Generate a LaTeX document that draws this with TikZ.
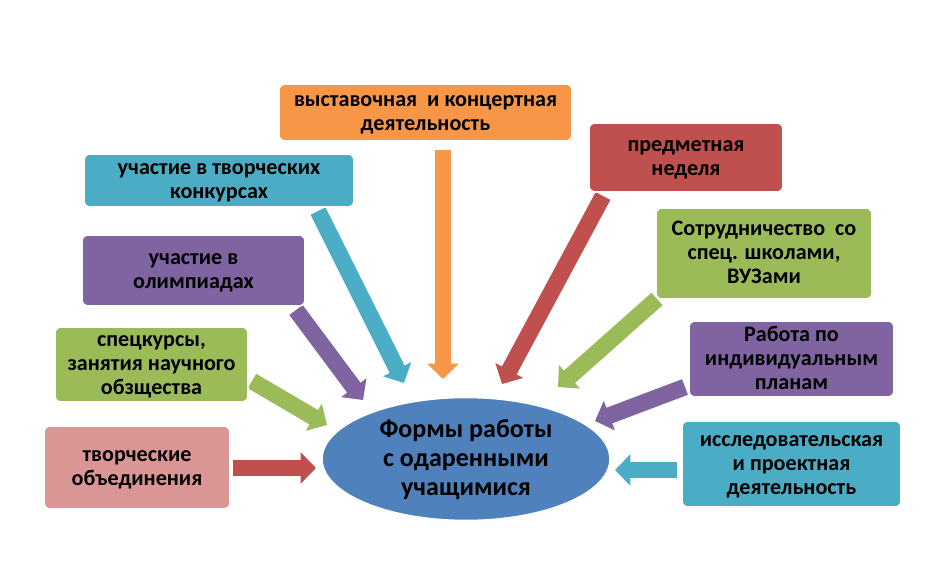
\documentclass[tikz,border=0pt]{standalone}
\usepackage{fontspec}
\setmainfont{Carlito}
\usetikzlibrary{arrows.meta,shapes.geometric,backgrounds}
\definecolor{corange}{HTML}{F79646}
\definecolor{cblue}{HTML}{4BACC6}
\definecolor{cpurple}{HTML}{8064A2}
\definecolor{cgreen}{HTML}{9BBB59}
\definecolor{cred}{HTML}{C0504D}
\definecolor{cpink}{HTML}{D99694}
\definecolor{cmain}{HTML}{4F81BD}
\newcommand\tx[1]{\raisebox{-1pt}[\height][\depth]{\begin{tabular}{@{}c@{}}#1\end{tabular}}}
\begin{document}
\begin{tikzpicture}[x=0.75pt,y=-0.75pt,
  box/.style={rectangle, rounded corners=4.5pt, draw=white, line width=1.2pt, text=black,
    font=\bfseries\fontsize{16.6}{18}\selectfont, inner sep=0pt},
  sz/.style 2 args={minimum width=#1*0.75pt, minimum height=#2*0.75pt},
  hub/.style={ellipse, fill=cmain, draw=white, line width=1.2pt, text=black, inner sep=0pt,
    font=\bfseries\fontsize{19.5}{21.75}\selectfont},
  arr/.style={line width=12.5pt, -{Triangle[length=11.5pt,width=23pt]}}]
\useasboundingbox (0,0) rectangle (947,588);
% boxes
\node[box, fill=corange, sz={293}{57}] (orange) at (425.5,112.5) {\tx{выставочная\ \ и концертная\\деятельность}};
\node[box, fill=cblue, sz={270}{53}] (blueTL) at (219,180.5) {\tx{участие в творческих\\конкурсах}};
\node[box, fill=cpurple, sz={223}{71}] (purpleL) at (193.5,270.5) {\tx{участие в\\олимпиадах}};
\node[box, fill=cgreen, sz={193}{75}] (greenL) at (151.5,364.5) {\tx{спецкурсы,\\занятия научного\\обзщества}};
\node[box, fill=cpink, sz={186}{83}] (pinkL) at (137,467.5) {\tx{творческие\\объединения}};
\node[box, fill=cred, sz={194}{69}] (redTR) at (686,157.5) {\tx{предметная\\неделя}};
\node[box, fill=cgreen, sz={216}{91}] (greenR) at (764,253.5) {\tx{Сотрудничество\ \ со\\спец. школами,\\ВУЗами}};
\node[box, fill=cpurple, sz={205}{76}] (purpleR) at (791.5,359) {\tx{Работа по\\индивидуальным\\планам}};
\node[box, fill=cblue, sz={219}{86}] (blueR) at (791.5,464) {\tx{исследовательская\\и проектная\\деятельность}};
\node[hub, minimum width=216pt, minimum height=85.5pt] (hub) at (466,459) {\tx{Формы работы\\с одаренными\\учащимися}};
% arrow end points
\coordinate (sBlueTL) at (318,211);   \coordinate (tBlueTL) at (404,383);
\coordinate (sOrange) at (443,150);   \coordinate (tOrange) at (443,379);
\coordinate (sPurpleL) at (296,310);  \coordinate (tPurpleL) at (363,400);
\coordinate (sGreenL) at (252,381);   \coordinate (tGreenL) at (327,425);
\coordinate (sPinkL) at (233,468);    \coordinate (tPinkL) at (316,468);
\coordinate (sRedTR) at (603,196);    \coordinate (tRedTR) at (502,384);
\coordinate (sGreenR) at (657,299);   \coordinate (tGreenR) at (558,387);
\coordinate (sPurpleR) at (685,387);  \coordinate (tPurpleR) at (595,421);
\coordinate (sBlueR) at (677,470);    \coordinate (tBlueR) at (615,470);
\begin{scope}[on background layer]
\fill[white] (0,0) rectangle (947,588);
\draw[arr, cblue] (sBlueTL) -- (tBlueTL);
\draw[arr, corange] (sOrange) -- (tOrange);
\draw[arr, cpurple] (sPurpleL) -- (tPurpleL);
\draw[arr, cgreen] (sGreenL) -- (tGreenL);
\draw[arr, cred] (sPinkL) -- (tPinkL);
\draw[arr, cred] (sRedTR) -- (tRedTR);
\draw[arr, cgreen] (sGreenR) -- (tGreenR);
\draw[arr, cpurple] (sPurpleR) -- (tPurpleR);
\draw[arr, cblue] (sBlueR) -- (tBlueR);
\end{scope}
\end{tikzpicture}
\end{document}
